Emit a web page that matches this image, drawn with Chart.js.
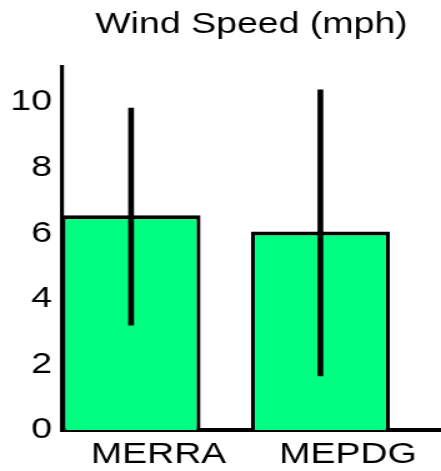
<!DOCTYPE html>
<html>
<head>
<meta charset="utf-8">
<script src="https://cdn.jsdelivr.net/npm/chart.js@4.4.1/dist/chart.umd.min.js"></script>
<style>
  html, body { margin: 0; padding: 0; background: #fff; }
</style>
</head>
<body>
<!-- the original picture is stretched sideways, so draw narrow and widen with css -->
<canvas id="chart" width="353" height="471" style="display:block;width:441px;height:471px"></canvas>
<script>
const categories = ['MERRA', 'MEPDG'];
const meanSpeed = [6.55, 6.05];
const errLow = [3.2, 1.65];
const errHigh = [9.82, 10.37];
const yTicks = [0, 2, 4, 6, 8, 10];

Chart.defaults.font.family = '"Liberation Sans", Arial, sans-serif';
Chart.defaults.color = '#000';

new Chart(document.getElementById('chart'), {
  type: 'bar',
  data: {
    datasets: [
      {
        label: 'range',
        data: categories.map((c, i) => ({ x: i, y: [errLow[i], errHigh[i]] })),
        backgroundColor: '#000',
        borderWidth: 0,
        barThickness: 4,
        grouped: false,
        order: 1
      },
      {
        label: 'Wind Speed',
        data: categories.map((c, i) => ({ x: i, y: meanSpeed[i] })),
        backgroundColor: '#00ff80',
        borderColor: '#000',
        borderWidth: { left: 3.2, right: 3.2, top: 4, bottom: 0 },
        borderSkipped: false,
        barPercentage: 0.734,
        categoryPercentage: 1,
        grouped: false,
        order: 2
      }
    ]
  },
  options: {
    responsive: false,
    animation: false,
    layout: { padding: 0 },
    plugins: {
      legend: { display: false },
      tooltip: { enabled: false },
      title: {
        display: true,
        text: 'Wind Speed (mph)',
        fullSize: false,
        color: '#000',
        font: { size: 30, weight: 'normal' },
        padding: { top: 7, bottom: 24 }
      }
    },
    scales: {
      x: {
        type: 'linear',
        offset: false,
        min: -0.365,
        max: 1.637,
        grid: { display: false, drawTicks: false },
        border: { display: true, color: '#000', width: 4 },
        ticks: {
          padding: 7,
          labelOffset: 22,
          autoSkip: false,
          font: { size: 30 },
          callback: v => categories[v]
        },
        afterBuildTicks: s => { s.ticks = categories.map((c, i) => ({ value: i })); },
        afterFit: s => { s.height = 41; }
      },
      y: {
        min: 0,
        max: 11.07,
        grid: { display: false, drawTicks: false },
        border: { display: true, color: '#000', width: 3.2 },
        ticks: { padding: 8, font: { size: 30 } },
        afterBuildTicks: s => { s.ticks = yTicks.map(v => ({ value: v })); },
        afterFit: s => { s.width = 49.6; }
      }
    }
  }
});
</script>
</body>
</html>
